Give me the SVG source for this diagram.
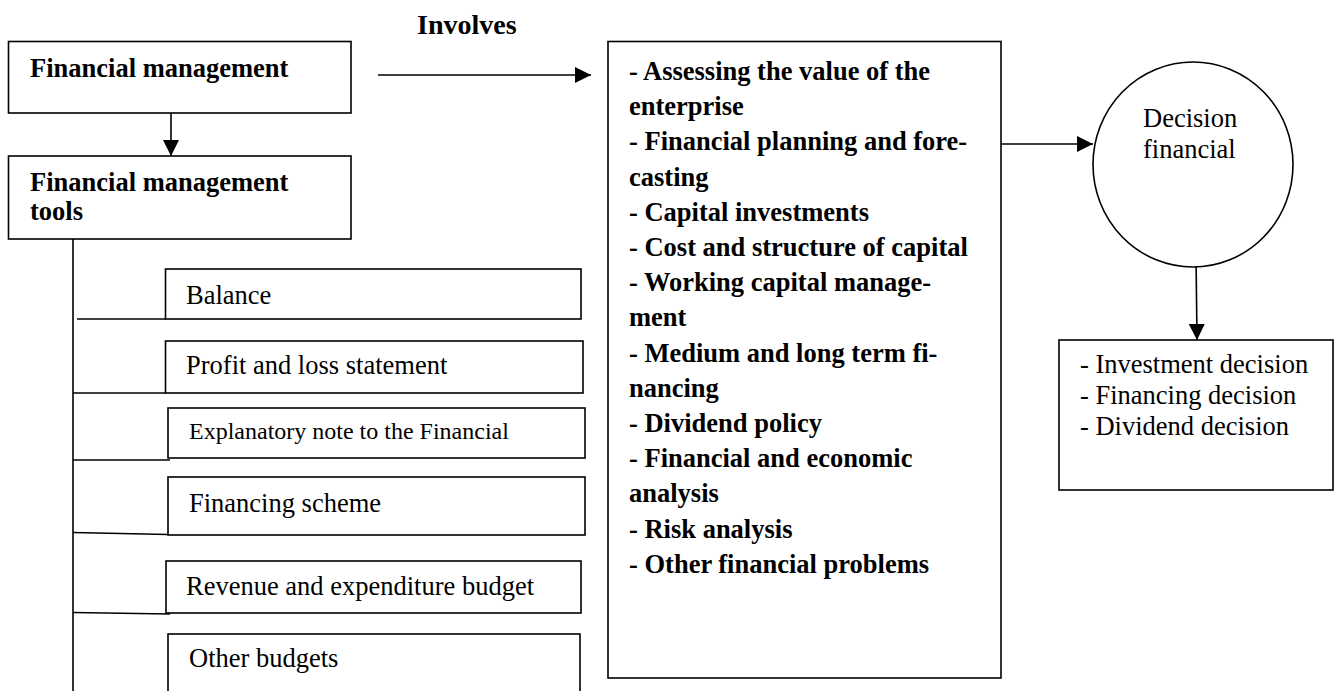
<svg xmlns="http://www.w3.org/2000/svg" width="1337" height="691" viewBox="0 0 1337 691">
  <defs>
    <style>
      .box { fill: #fff; stroke: #000; stroke-width: 1.6; }
      .line { fill: none; stroke: #000; stroke-width: 1.6; }
      .bold { font-family: "Liberation Serif", "Times New Roman", serif; font-weight: bold; font-size: 26.5px; fill: #000; }
      .reg { font-family: "Liberation Serif", "Times New Roman", serif; font-size: 26.5px; fill: #000; }
      .small { font-family: "Liberation Serif", "Times New Roman", serif; font-size: 24px; fill: #000; }
    </style>
    <marker id="arrow" viewBox="0 0 16 16" refX="16" refY="8" markerWidth="16" markerHeight="16" markerUnits="userSpaceOnUse" orient="auto">
      <path d="M0,0 L16,8 L0,16 Z" fill="#000"/>
    </marker>
  </defs>

  <rect width="1337" height="691" fill="#fff"/>

  <!-- connectors -->
  <g id="connectors">
    <line class="line" x1="378" y1="75" x2="591" y2="75" marker-end="url(#arrow)"/>
    <line class="line" x1="171" y1="113" x2="171" y2="156" marker-end="url(#arrow)"/>
    <line class="line" x1="1001" y1="144" x2="1093" y2="144" marker-end="url(#arrow)"/>
    <line class="line" x1="1196" y1="255" x2="1197" y2="340" marker-end="url(#arrow)"/>
    <!-- tool tree trunk and branches -->
    <line class="line" x1="73" y1="239" x2="73" y2="691"/>
    <line class="line" x1="77" y1="319" x2="166" y2="319"/>
    <line class="line" x1="73" y1="393" x2="166" y2="393"/>
    <line class="line" x1="73" y1="460" x2="170" y2="460"/>
    <line class="line" x1="73" y1="532.5" x2="168" y2="534.5"/>
    <line class="line" x1="73" y1="612.5" x2="170" y2="614"/>
  </g>

  <text class="bold" x="417" y="34" style="font-size:28px">Involves</text>

  <g id="financial-management">
    <rect class="box" x="8.5" y="41.5" width="342.5" height="71.5"/>
    <text class="bold" x="30" y="77">Financial management</text>
  </g>

  <g id="management-tools">
    <rect class="box" x="8.5" y="156" width="342.5" height="83"/>
    <text class="bold" x="30" y="190.5">Financial management</text>
    <text class="bold" x="30" y="220">tools</text>
  </g>

  <g id="balance">
    <rect class="box" x="165.5" y="269" width="415.5" height="50"/>
    <text class="reg" x="186" y="304">Balance</text>
  </g>

  <g id="profit-loss">
    <rect class="box" x="165.5" y="341" width="417.5" height="52"/>
    <text class="reg" x="186" y="374">Profit and loss statement</text>
  </g>

  <g id="explanatory-note">
    <rect class="box" x="168" y="408" width="417" height="50"/>
    <text class="small" x="189" y="439">Explanatory note to the Financial</text>
  </g>

  <g id="financing-scheme">
    <rect class="box" x="168" y="477" width="417" height="58"/>
    <text class="reg" x="189" y="512">Financing scheme</text>
  </g>

  <g id="revenue-budget">
    <rect class="box" x="166" y="561" width="415" height="52"/>
    <text class="reg" x="186" y="595">Revenue and expenditure budget</text>
  </g>

  <g id="other-budgets">
    <rect class="box" x="168" y="634" width="412" height="70"/>
    <text class="reg" x="189" y="667">Other budgets</text>
  </g>

  <g id="involves-list">
    <rect class="box" x="608" y="41.5" width="393" height="636.5"/>
    <text class="bold" x="629">
      <tspan x="629" y="80">- Assessing the value of the</tspan>
      <tspan x="629" y="115.2">enterprise</tspan>
      <tspan x="629" y="150.4">- Financial planning and fore-</tspan>
      <tspan x="629" y="185.6">casting</tspan>
      <tspan x="629" y="220.8">- Capital investments</tspan>
      <tspan x="629" y="256">- Cost and structure of capital</tspan>
      <tspan x="629" y="291.2">- Working capital manage-</tspan>
      <tspan x="629" y="326.4">ment</tspan>
      <tspan x="629" y="361.6">- Medium and long term fi-</tspan>
      <tspan x="629" y="396.8">nancing</tspan>
      <tspan x="629" y="432">- Dividend policy</tspan>
      <tspan x="629" y="467.2">- Financial and economic</tspan>
      <tspan x="629" y="502.4">analysis</tspan>
      <tspan x="629" y="537.6">- Risk analysis</tspan>
      <tspan x="629" y="572.8">- Other financial problems</tspan>
    </text>
  </g>

  <g id="decision-financial">
    <ellipse class="box" cx="1193" cy="164.5" rx="100" ry="102.5"/>
    <text class="reg" x="1143" y="127">Decision</text>
    <text class="reg" x="1143" y="158">financial</text>
  </g>

  <g id="decision-types">
    <rect class="box" x="1059" y="340" width="274" height="150"/>
    <text class="reg" x="1080" y="373">- Investment decision</text>
    <text class="reg" x="1080" y="404">- Financing decision</text>
    <text class="reg" x="1080" y="435">- Dividend decision</text>
  </g>
</svg>
